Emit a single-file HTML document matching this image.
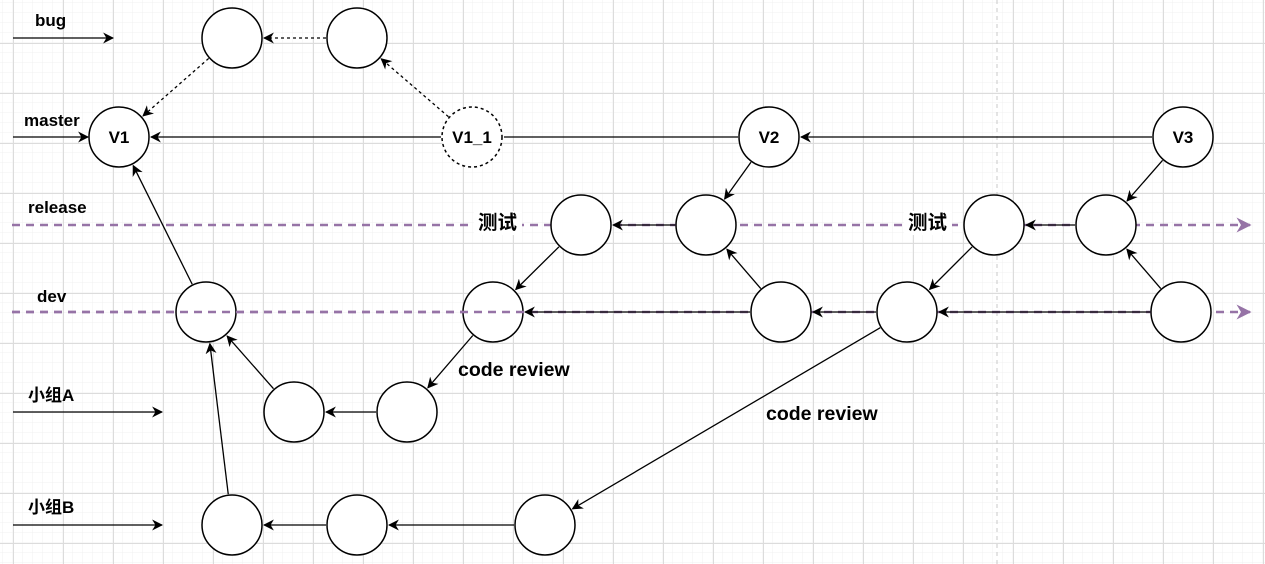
<!DOCTYPE html>
<html><head><meta charset="utf-8"><style>
html,body{margin:0;padding:0;background:#fff;width:1265px;height:564px;overflow:hidden}
svg{display:block}
text{font-family:"Liberation Sans","Noto Sans CJK SC",sans-serif;font-weight:bold;font-size:17px;fill:#000}
.big{font-size:19.5px}
</style></head><body>
<svg id="s" width="1265" height="564" xmlns="http://www.w3.org/2000/svg">
<defs>
<pattern id="minor" width="10" height="10" patternUnits="userSpaceOnUse" x="3" y="3"><path d="M10 0V10M0 10H10" fill="none" stroke="#f0f0f0" stroke-width="1"/></pattern>
<pattern id="major" width="50" height="50" patternUnits="userSpaceOnUse" x="13" y="43"><path d="M0.5 0V50M0 0.5H50" fill="none" stroke="#dcdcdc" stroke-width="1"/></pattern>
<marker id="a" viewBox="0 0 10 10" refX="9" refY="5" markerWidth="11" markerHeight="11" markerUnits="userSpaceOnUse" orient="auto"><path d="M0 0L10 5L0 10L3 5Z" fill="#000"/></marker>
<marker id="p" viewBox="0 0 10 10" refX="9" refY="5" markerWidth="15" markerHeight="15" markerUnits="userSpaceOnUse" orient="auto"><path d="M0 0L10 5L0 10L3 5Z" fill="#9673a6"/></marker>
</defs>
<rect width="1265" height="564" fill="url(#minor)"/>
<rect width="1265" height="564" fill="url(#major)"/>
<line x1="997" y1="0" x2="997" y2="564" stroke="#c8c8c8" stroke-dasharray="4 4"/>
<line x1="12" y1="225" x2="1250" y2="225" stroke="#9673a6" stroke-width="2.5" stroke-dasharray="8 6" marker-end="url(#p)"/>
<line x1="12" y1="312" x2="1250" y2="312" stroke="#9673a6" stroke-width="2.5" stroke-dasharray="8 6" marker-end="url(#p)"/>
<g id="e"></g>
<g id="c"></g>
<line x1="12" y1="312" x2="525" y2="312" stroke="#9673a6" stroke-width="2.5" stroke-dasharray="8 6"/>
<line x1="13" y1="38" x2="113" y2="38" stroke="#000" stroke-width="1.3" marker-end="url(#a)"/>
<line x1="13" y1="137" x2="88" y2="137" stroke="#000" stroke-width="1.3" marker-end="url(#a)"/>
<line x1="13" y1="412" x2="162" y2="412" stroke="#000" stroke-width="1.3" marker-end="url(#a)"/>
<line x1="13" y1="525" x2="162" y2="525" stroke="#000" stroke-width="1.3" marker-end="url(#a)"/>
<text x="35" y="26">bug</text>
<text x="24" y="126">master</text>
<text x="28" y="213">release</text>
<text x="37" y="302">dev</text>
<text x="28" y="401">小组A</text>
<text x="28" y="513">小组B</text>
<rect x="474" y="211" width="48" height="24" fill="#fff"/>
<text class="big" x="478" y="229">测试</text>
<rect x="904" y="211" width="48" height="24" fill="#fff"/>
<text class="big" x="908" y="229">测试</text>
<text class="big" x="458" y="376">code review</text>
<text class="big" x="766" y="420">code review</text>
</svg>
<script>
var N={b1:[232,38],b2:[357,38],v1:[119,137],v11:[472,137],v2:[769,137],v3:[1183,137],
r1:[581,225],r2:[706,225],r3:[994,225],r4:[1106,225],
d1:[206,312],d2:[493,312],d3:[781,312],d4:[907,312],d5:[1181,312],
a1:[294,412],a2:[407,412],g1:[232,525],g2:[357,525],g3:[545,525]};
var R=31,ns="http://www.w3.org/2000/svg";
var E=[["b2","b1",1,1],["b1","v1",1,1],["v11","b2",1,1],["v11","v1",0,1],["v2","v11",0,0],["v3","v2",0,1],
["v2","r2",0,1],["r2","r1",0,1],["r1","d2",0,1],["d3","r2",0,1],["d3","d2",0,1],["d4","d3",0,1],["d5","d4",0,1],
["v3","r4",0,1],["r4","r3",0,1],["r3","d4",0,1],["d5","r4",0,1],["d2","a2",0,1],["a2","a1",0,1],["a1","d1",0,1],
["d1","v1",0,1],["g1","d1",0,1],["g2","g1",0,1],["g3","g2",0,1],["d4","g3",0,1]];
var ge=document.getElementById("e"),gc=document.getElementById("c");
E.forEach(function(e){var a=N[e[0]],b=N[e[1]],dx=b[0]-a[0],dy=b[1]-a[1],L=Math.hypot(dx,dy),ux=dx/L,uy=dy/L;
var l=document.createElementNS(ns,"line");
l.setAttribute("x1",a[0]+ux*R);l.setAttribute("y1",a[1]+uy*R);l.setAttribute("x2",b[0]-ux*(R+1));l.setAttribute("y2",b[1]-uy*(R+1));
l.setAttribute("stroke","#000");l.setAttribute("stroke-width","1.3");
if(e[2])l.setAttribute("stroke-dasharray","3 3");if(e[3])l.setAttribute("marker-end","url(#a)");ge.appendChild(l);});
var lab={v1:"V1",v11:"V1_1",v2:"V2",v3:"V3"};
for(var k in N){var c=document.createElementNS(ns,"circle");c.setAttribute("cx",N[k][0]);c.setAttribute("cy",N[k][1]);c.setAttribute("r",R-1);
c.setAttribute("fill","#fff");c.setAttribute("stroke","#000");c.setAttribute("stroke-width","1.5");if(k=="v11")c.setAttribute("stroke-dasharray","3 3");gc.appendChild(c);
if(lab[k]){var t=document.createElementNS(ns,"text");t.setAttribute("x",N[k][0]);t.setAttribute("y",N[k][1]+6);t.setAttribute("text-anchor","middle");t.textContent=lab[k];gc.appendChild(t);}}
</script>
</body></html>
